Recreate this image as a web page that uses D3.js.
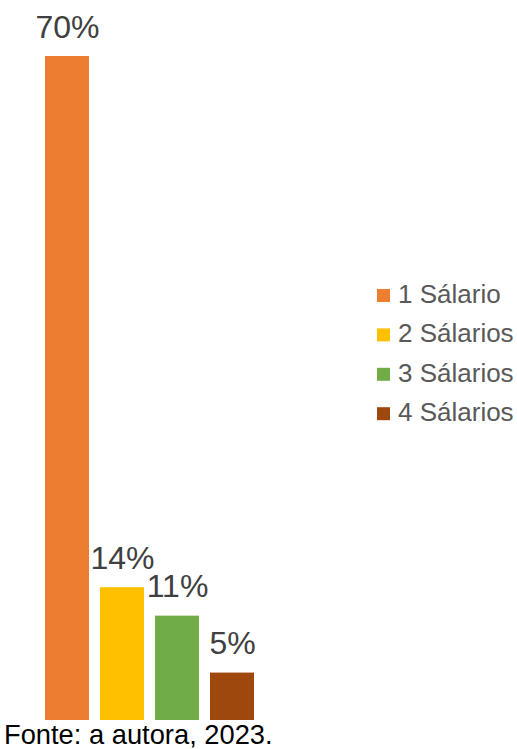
<!DOCTYPE html>
<html>
<head>
<meta charset="utf-8">
<script src="https://cdn.jsdelivr.net/npm/d3@7"></script>
<style>
  html, body { margin: 0; padding: 0; background: #fff; }
  svg { display: block; font-family: "Liberation Sans", Arial, sans-serif; }
</style>
</head>
<body>
<svg id="chart" width="517" height="749"></svg>
<script>
// Salary brackets and their share of respondents (%)
const categories = ["1 Sálario", "2 Sálarios", "3 Sálarios", "4 Sálarios"];
const values = [70, 14, 11, 5];
const colors = ["#ED7D31", "#FFC000", "#70AD47", "#9E480E"];
const source = "Fonte: a autora, 2023.";

const svg = d3.select("#chart");

const x = d3.scaleBand()
  .domain(categories)
  .range([39.5, 259.5])
  .paddingInner(0.2)
  .paddingOuter(0.1);

const y = d3.scaleLinear()
  .domain([0, 70])
  .range([720, 56]);

const color = d3.scaleOrdinal().domain(categories).range(colors);

// Bars
svg.append("g")
  .selectAll("rect")
  .data(values)
  .join("rect")
  .attr("x", (d, i) => x(categories[i]))
  .attr("y", d => y(d))
  .attr("width", x.bandwidth())
  .attr("height", d => y(0) - y(d))
  .attr("fill", (d, i) => color(categories[i]));

// Value labels above bars
svg.append("g")
  .selectAll("text")
  .data(values)
  .join("text")
  .attr("x", (d, i) => x(categories[i]) + x.bandwidth() / 2 + 0.5)
  .attr("y", d => y(d) - 18.5)
  .attr("text-anchor", "middle")
  .attr("font-size", 32)
  .attr("fill", "#404040")
  .text(d => d + "%");

// Legend
const legend = svg.append("g")
  .selectAll("g")
  .data(categories)
  .join("g")
  .attr("transform", (d, i) => `translate(377, ${289 + i * 39.4})`);

legend.append("rect")
  .attr("width", 13)
  .attr("height", 13)
  .attr("fill", d => color(d));

legend.append("text")
  .attr("x", 21)
  .attr("y", 14)
  .attr("font-size", 26)
  .attr("fill", "#595959")
  .text(d => d);

// Source note
svg.append("text")
  .attr("x", 4)
  .attr("y", 744)
  .attr("font-size", 27.3)
  .attr("fill", "#000")
  .text(source);
</script>
</body>
</html>
